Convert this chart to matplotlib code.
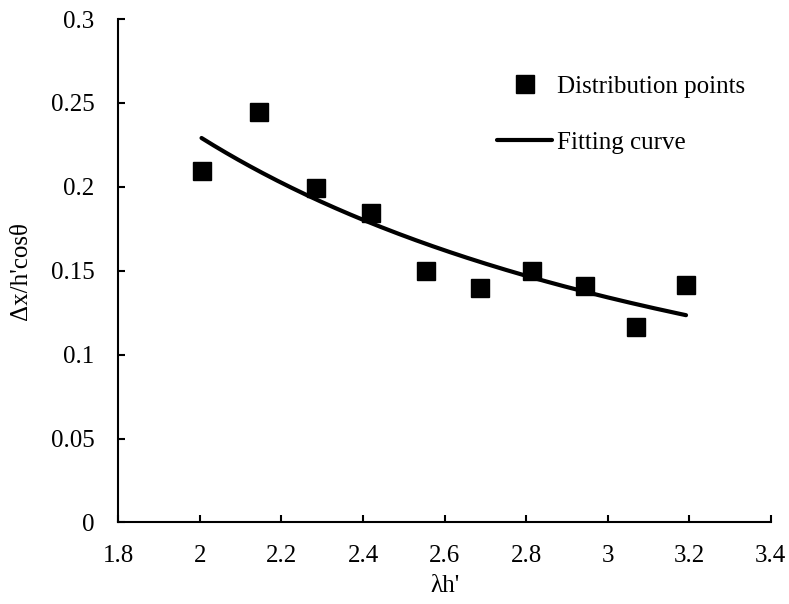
import numpy as np
import matplotlib.pyplot as plt

# data
lam_h = [2.004, 2.145, 2.285, 2.420, 2.554, 2.687, 2.814, 2.944, 3.069, 3.192]
dx_ratio = [0.2093, 0.2445, 0.1992, 0.1843, 0.1498, 0.1397, 0.1498, 0.1411, 0.1165, 0.1415]

x_ticks = [1.8, 2.0, 2.2, 2.4, 2.6, 2.8, 3.0, 3.2, 3.4]
x_tick_labels = ['1.8', '2', '2.2', '2.4', '2.6', '2.8', '3', '3.2', '3.4']
y_ticks = [0, 0.05, 0.1, 0.15, 0.2, 0.25, 0.3]
y_tick_labels = ['0', '0.05', '0.1', '0.15', '0.2', '0.25', '0.3']

plt.rcParams['font.family'] = ['Liberation Serif', 'DejaVu Serif']
plt.rcParams['font.size'] = 18

# power trendline fitted to the points (log-log least squares)
b, log_a = np.polyfit(np.log(lam_h), np.log(dx_ratio), 1)
x_fit = np.linspace(min(lam_h), max(lam_h), 200)
y_fit = np.exp(log_a) * x_fit ** b

fig = plt.figure(figsize=(7.89, 6.04), dpi=100)
ax = fig.add_axes([0.150, 0.135, 0.827, 0.8335])

ax.plot(lam_h, dx_ratio, linestyle='none', marker='s', markersize=13.5,
        color='black', label='Distribution points')
ax.plot(x_fit, y_fit, color='black', linewidth=3, solid_capstyle='round',
        label='Fitting curve')

ax.set_xlim(1.8, 3.4)
ax.set_ylim(0, 0.3)
ax.set_xticks(x_ticks)
ax.set_xticklabels(x_tick_labels)
ax.set_yticks(y_ticks)
ax.set_yticklabels(y_tick_labels)
ax.tick_params(direction='in', length=5, width=1.5)
ax.tick_params(axis='x', pad=16)
ax.tick_params(axis='y', pad=17)

for side in ['top', 'right']:
    ax.spines[side].set_visible(False)
for side in ['left', 'bottom']:
    ax.spines[side].set_linewidth(1.5)

ax.set_xlabel("λh'", labelpad=6)
ax.set_ylabel("Δx/h'cosθ", labelpad=14)

fig.legend(loc='upper left', bbox_to_anchor=(497 / 789, 1 - 75 / 604),
           frameon=False, borderpad=0, borderaxespad=0,
           handlelength=2.2, handletextpad=0.2, labelspacing=1.36, fontsize=18)

fig.savefig('out.png', dpi=100)
